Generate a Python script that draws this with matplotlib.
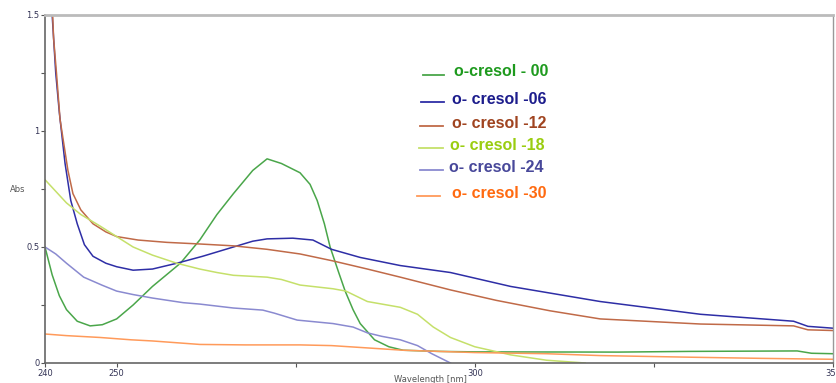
import numpy as np
import matplotlib.pyplot as plt

# wavelength (nm) / absorbance
wl_00 = [240, 241, 242, 243, 244.5, 246.3, 248, 250, 252.3, 255, 258.9, 261.6, 264, 266.3, 269, 271, 273, 275.6, 277, 278, 279, 279.8, 281, 281.9, 283, 284, 286, 288, 290, 295, 300, 320, 330, 345, 347, 350]
ab_00 = [0.50, 0.38, 0.29, 0.23, 0.18, 0.16, 0.165, 0.19, 0.25, 0.33, 0.43, 0.53, 0.64, 0.73, 0.83, 0.88, 0.86, 0.82, 0.77, 0.70, 0.60, 0.50, 0.39, 0.31, 0.23, 0.17, 0.10, 0.07, 0.055, 0.05, 0.048, 0.047, 0.05, 0.052, 0.042, 0.04]

wl_06 = [240.8, 241, 241.5, 242, 242.8, 243.6, 244.5, 245.5, 246.7, 248.5, 250, 252.3, 255, 258.4, 262, 266.3, 269, 271, 274.6, 277.4, 280, 284, 289.6, 296.6, 305, 317.5, 331.5, 344.5, 346.5, 350]
ab_06 = [1.55, 1.50, 1.25, 1.08, 0.86, 0.70, 0.60, 0.51, 0.46, 0.43, 0.415, 0.40, 0.405, 0.43, 0.46, 0.50, 0.525, 0.535, 0.538, 0.53, 0.49, 0.455, 0.42, 0.39, 0.33, 0.265, 0.21, 0.18, 0.158, 0.15]

wl_12 = [241.0, 241.2, 241.6, 242.1, 243.2, 243.9, 245, 246.7, 248.5, 250, 253, 257, 261.6, 266.3, 271, 275.6, 280.2, 285, 289.6, 296.6, 303, 310.5, 317.5, 331.5, 344.5, 346.5, 350]
ab_12 = [1.55, 1.40, 1.25, 1.05, 0.83, 0.73, 0.66, 0.60, 0.565, 0.545, 0.53, 0.52, 0.513, 0.505, 0.49, 0.47, 0.44, 0.405, 0.37, 0.315, 0.27, 0.225, 0.19, 0.168, 0.16, 0.143, 0.14]

wl_18 = [240, 243, 245, 247.7, 250, 252.3, 255, 258.4, 261.6, 264, 266.3, 271, 273, 275.6, 280.2, 282, 285, 289.6, 292, 294.2, 296.6, 300, 305, 310, 315.4]
ab_18 = [0.79, 0.69, 0.64, 0.59, 0.545, 0.50, 0.465, 0.43, 0.405, 0.39, 0.378, 0.37, 0.36, 0.336, 0.32, 0.31, 0.265, 0.24, 0.21, 0.155, 0.11, 0.07, 0.035, 0.012, 0.0]

wl_24 = [240, 241.5, 243, 245.4, 248, 250, 252.3, 255, 259.3, 261.6, 266.3, 270.4, 272, 275.2, 280.2, 283, 285, 287, 289.6, 292, 294, 296.6]
ab_24 = [0.50, 0.47, 0.43, 0.37, 0.335, 0.31, 0.295, 0.28, 0.26, 0.254, 0.237, 0.228, 0.215, 0.185, 0.17, 0.155, 0.13, 0.115, 0.10, 0.075, 0.04, 0.0]

wl_30 = [240, 243, 247.7, 252, 255, 261.6, 268, 275.6, 280, 285, 290, 300, 310, 317.5, 330, 340, 350]
ab_30 = [0.125, 0.118, 0.11, 0.1, 0.095, 0.08, 0.078, 0.078, 0.075, 0.065, 0.055, 0.045, 0.04, 0.032, 0.025, 0.02, 0.016]

labels = ["o-cresol - 00", "o- cresol -06", "o- cresol -12", "o- cresol -18", "o- cresol -24", "o- cresol -30"]
line_colors = ["#4aa64a", "#2e2ea6", "#c06a48", "#c5e06a", "#8a8ad0", "#ff9a5a"]
text_colors = ["#1e9a1e", "#1c1c8c", "#a04420", "#9acd10", "#48489a", "#ff6a10"]

fig = plt.figure(figsize=(8.37, 3.83), dpi=100)
ax = fig.add_axes([45/837, 1-363/383, (833-45)/837, (363-15)/383])

series = [(wl_00, ab_00), (wl_06, ab_06), (wl_12, ab_12), (wl_18, ab_18), (wl_24, ab_24), (wl_30, ab_30)]
for (x, y), c in zip(series, line_colors):
    ax.plot(x, y, color=c, lw=1.1)

ax.set_xlim(240, 350)
ax.set_ylim(0, 1.5)
ax.set_xticks([240, 250, 275, 300, 325, 350])
ax.set_xticklabels(["240", "250", "", "300", "", "350"])
ax.set_yticks([0, 0.25, 0.5, 0.75, 1, 1.25, 1.5])
ax.set_yticklabels(["0", "", "0.5", "", "1", "", "1.5"])
ax.tick_params(labelsize=6, colors="#555555", length=3, width=0.8, pad=1)
for t in ax.get_xticklabels() + ax.get_yticklabels():
    t.set_color("#333355")

for side in ["left", "bottom"]:
    ax.spines[side].set_color("#666666")
    ax.spines[side].set_linewidth(1.2)
ax.spines["top"].set_color("#bbbbbb")
ax.spines["top"].set_linewidth(2)
ax.spines["right"].set_color("#999999")
ax.spines["right"].set_linewidth(1)

fig.text(10/837, 1-192/383, "Abs", fontsize=6, color="#555555")
fig.text(430/837, 1-382/383, "Wavelength [nm]", fontsize=6, color="#555555", ha="center")

# hand-placed legend entries
rows_y = [72, 99, 123, 145, 167, 193]
line_x = [(423, 444), (421, 444), (420, 443), (419, 443), (420, 443), (417, 440)]
text_x = [454, 452, 452, 450, 449, 452]
for i in range(6):
    yy = 1 - rows_y[i]/383
    fig.add_artist(plt.Line2D([line_x[i][0]/837, line_x[i][1]/837], [yy - 3/383, yy - 3/383],
                              color=line_colors[i], lw=1.3, transform=fig.transFigure))
    fig.text(text_x[i]/837, yy, labels[i], fontsize=11.5, fontweight="bold",
             color=text_colors[i], family="Liberation Sans", va="center")

plt.savefig("out.png", dpi=100)
